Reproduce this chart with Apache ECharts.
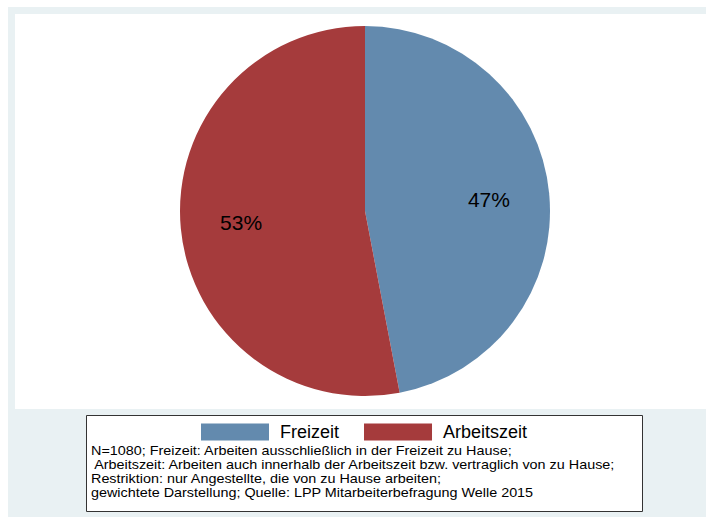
<!DOCTYPE html>
<html>
<head>
<meta charset="utf-8">
<script src="https://cdn.jsdelivr.net/npm/echarts@6/dist/echarts.min.js"></script>
<style>
html,body{margin:0;padding:0;background:#fff;}
#chart{width:706px;height:517px;}
</style>
</head>
<body>
<div id="chart"></div>
<script>
const categories = ['Freizeit', 'Arbeitszeit'];
const shares = [47, 53];
const sliceColors = ['#638aae', '#a53b3c'];
const noteLines = [
  'N=1080; Freizeit: Arbeiten ausschließlich in der Freizeit zu Hause;',
  ' Arbeitszeit: Arbeiten auch innerhalb der Arbeitszeit bzw. vertraglich von zu Hause;',
  'Restriktion: nur Angestellte, die von zu Hause arbeiten;',
  'gewichtete Darstellung; Quelle: LPP Mitarbeiterbefragung Welle 2015'
];

const FONT = '"Liberation Sans", Arial, sans-serif';
const pieData = categories.map((c, i) => ({ name: c, value: shares[i], itemStyle: { color: sliceColors[i] } }));

const chart = echarts.init(document.getElementById('chart'), null, { renderer: 'svg' });
chart.setOption({
  backgroundColor: '#ffffff',
  animation: false,
  graphic: [
    { type: 'rect', z: -10, shape: { x: 8, y: 7, width: 698, height: 510 }, style: { fill: '#e9f1f3' } },
    { type: 'rect', z: -9, shape: { x: 15, y: 14, width: 691, height: 395 }, style: { fill: '#ffffff' } },
    { type: 'rect', z: -9, shape: { x: 86.5, y: 415.5, width: 556, height: 96 }, style: { fill: '#ffffff', stroke: '#333333', lineWidth: 1 } },
    { type: 'text', z: 10, x: 91, y: 443.5, scaleX: 1.15, scaleY: 1,
      style: { x: 0, y: 0, text: noteLines.join('\n'), font: '12.5px ' + FONT, fill: '#000000', lineHeight: 14 } }
  ],
  legend: {
    left: 201,
    top: 423,
    itemWidth: 68,
    itemHeight: 17,
    itemGap: 25,
    icon: 'rect',
    padding: 0,
    data: categories,
    textStyle: { fontFamily: FONT, fontSize: 18, color: '#000', padding: [0, 0, 0, 6] }
  },
  series: [
    {
      type: 'pie',
      center: [365, 211],
      radius: [0, 185],
      startAngle: 90,
      clockwise: true,
      silent: true,
      label: { show: false },
      labelLine: { show: false },
      itemStyle: { borderWidth: 0 },
      data: pieData
    },
    {
      type: 'pie',
      center: [365, 211],
      radius: [58, 185],
      startAngle: 90,
      clockwise: true,
      silent: true,
      legendHoverLink: false,
      itemStyle: { color: 'rgba(0,0,0,0)', borderWidth: 0 },
      label: {
        show: true,
        position: 'inside',
        formatter: p => p.value + '%',
        fontFamily: FONT,
        fontSize: 21,
        color: '#000'
      },
      labelLine: { show: false },
      data: categories.map((c, i) => ({ name: c + ' ', value: shares[i] }))
    }
  ]
});
</script>
</body>
</html>
